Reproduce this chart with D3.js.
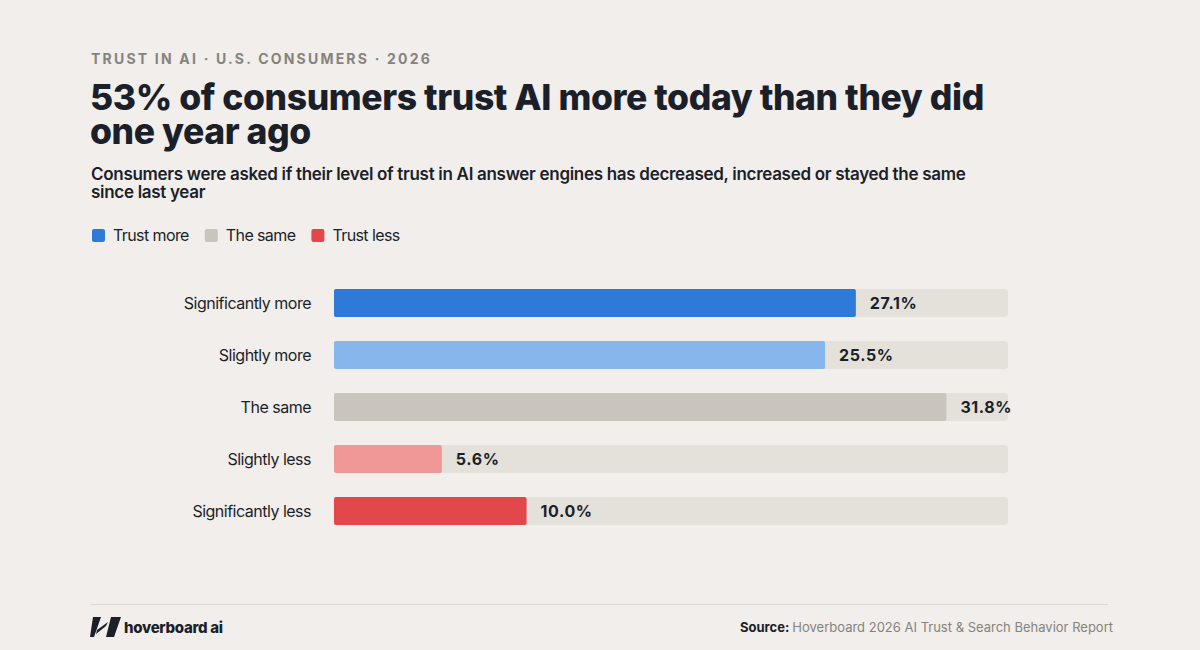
<!DOCTYPE html>
<html><head><meta charset="utf-8">
<script src="https://cdn.jsdelivr.net/npm/d3@7"></script>
<style>body{margin:0;background:#f1eeeb;font-family:Inter,sans-serif}</style>
</head><body><svg id="c" width="1200" height="650"></svg>
<script>
const categories=["Significantly more","Slightly more","The same","Slightly less","Significantly less"];
const values=[27.1,25.5,31.8,5.6,10.0];
const colors=["#2d7ad9","#86b6ec","#c9c5bd","#f09897","#e2484b"];
const legendLabels=["Trust more","The same","Trust less"];
const legendColors=["#2d7ad9","#c9c5bd","#e2484b"];
const svg=d3.select("#c");
svg.append("rect").attr("width",1200).attr("height",650).attr("fill","#f1eeeb");
svg.append("text").attr("x",91).attr("y",64).attr("font-size",14).attr("font-weight",700).attr("letter-spacing",2.2).attr("fill","#86837e").text("TRUST IN AI · U.S. CONSUMERS · 2026");
const t=svg.append("text").attr("font-size",35.5).attr("font-weight",800).attr("fill","#1b1f2a").attr("letter-spacing",-0.4);
t.append("tspan").attr("x",90).attr("y",110).text("53% of consumers trust AI more today than they did");
t.append("tspan").attr("x",90).attr("y",144).text("one year ago");
const s=svg.append("text").attr("font-size",17).attr("font-weight",600).attr("fill","#1b1f2a").attr("letter-spacing",-0.3);
s.append("tspan").attr("x",91).attr("y",180).text("Consumers were asked if their level of trust in AI answer engines has decreased, increased or stayed the same");
s.append("tspan").attr("x",91).attr("y",198).text("since last year");
let lx=92;
const lg=svg.append("g");
legendLabels.forEach((l,i)=>{
  lg.append("rect").attr("x",lx).attr("y",229).attr("width",13).attr("height",13).attr("rx",2).attr("fill",legendColors[i]);
  const tx=lg.append("text").attr("x",lx+21).attr("y",241).attr("font-size",16).attr("fill","#1b1f2a").attr("letter-spacing",-0.6).text(l);
  lx+=21+tx.node().getComputedTextLength()+16;
});
const x=d3.scaleLinear().domain([0,35]).range([334,1008]);
const y=d3.scaleBand().domain(categories).range([289,525]).paddingInner(24/52).paddingOuter(0);
const g=svg.append("g");
categories.forEach((c,i)=>{
  g.append("rect").attr("x",x(0)).attr("y",y(c)).attr("width",x(35)-x(0)).attr("height",y.bandwidth()).attr("rx",3).attr("fill","#e4e0da");
  g.append("rect").attr("x",x(0)).attr("y",y(c)).attr("width",x(values[i])-x(0)).attr("height",y.bandwidth()).attr("rx",2).attr("fill",colors[i]);
  g.append("text").attr("x",x(values[i])+14).attr("y",y(c)+y.bandwidth()/2+6).attr("font-size",16).attr("font-weight",700).attr("fill","#1b1f2a").attr("letter-spacing",0.6).text(values[i].toFixed(1)+"%");
  g.append("text").attr("x",311).attr("y",y(c)+y.bandwidth()/2+6).attr("text-anchor","end").attr("font-size",16).attr("fill","#1b1f2a").attr("letter-spacing",-0.5).text(c);
});
svg.append("line").attr("x1",91).attr("x2",1108).attr("y1",604.5).attr("y2",604.5).attr("stroke","#dcd8d2");
svg.append("path").attr("d","M93,617 L101,617 L94,637 L90,637 Z M111,617 L121,617 L114,637 L106,637 Z M97,630 L108,622 L106,626 L96,634 Z").attr("fill","#1b1f2a");
svg.append("text").attr("x",124).attr("y",633).attr("font-size",15).attr("font-weight",800).attr("fill","#1b1f2a").attr("letter-spacing",-0.3).text("hoverboard ai");
const src=svg.append("text").attr("x",1113).attr("y",632).attr("text-anchor","end").attr("font-size",13).attr("fill","#86837e");
src.append("tspan").attr("font-weight",700).attr("fill","#1b1f2a").text("Source: ");
src.append("tspan").text("Hoverboard 2026 AI Trust & Search Behavior Report");
</script></body></html>
